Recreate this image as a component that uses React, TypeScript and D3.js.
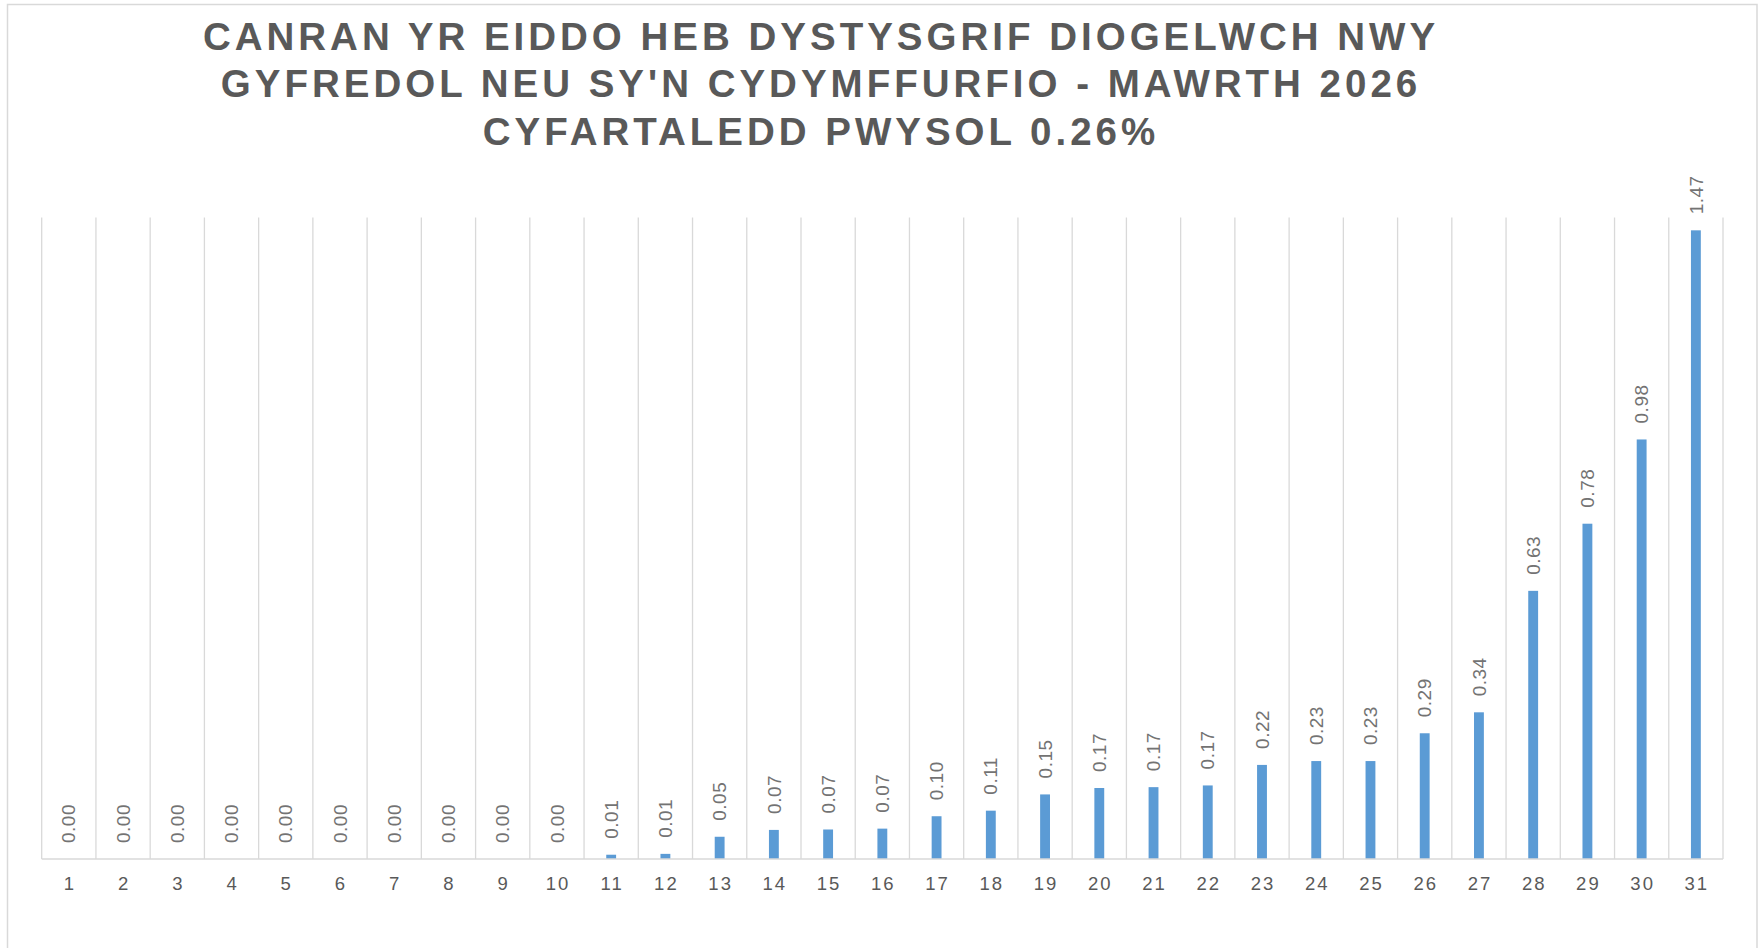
import React from 'react';
import * as d3 from 'd3';

// chart data
const days = d3.range(1, 32).map(String);
const values = [
  0, 0, 0, 0, 0, 0, 0, 0, 0, 0,
  0.01, 0.012, 0.052, 0.068, 0.069, 0.071, 0.1, 0.113, 0.151, 0.166,
  0.168, 0.172, 0.22, 0.229, 0.229, 0.294, 0.343, 0.627, 0.784, 0.981, 1.47,
];
const titleLines = [
  'CANRAN YR EIDDO HEB DYSTYSGRIF DIOGELWCH NWY',
  "GYFREDOL NEU SY'N CYDYMFFURFIO - MAWRTH 2026",
  'CYFARTALEDD PWYSOL 0.26%',
];

function App() {
  const w = 1763,
    h = 948;
  const plot = { left: 41.7, right: 1723, top: 217.5, bottom: 859 };
  const font = '"Liberation Sans", Arial, sans-serif';
  const grey = '#d9d9d9';

  const x = d3.scaleBand().domain(days).range([plot.left, plot.right]).padding(0);
  const y = d3.scaleLinear().domain([0, 1.5]).range([plot.bottom, plot.top]);
  // Excel gap width 450%
  const barW = x.bandwidth() / 5.5;
  const fmt = d3.format('.2f');

  const gridXs = days.map((d) => x(d)).concat([plot.right]);

  return (
    <svg width={w} height={h} style={{ position: 'absolute', left: 0, top: 0, background: '#fff' }}>
      {/* chart area border */}
      <rect x={7.5} y={4.5} width={1749.5} height={1000} fill="#fff" stroke={grey} strokeWidth={1.5} />

      {/* title */}
      <g fontFamily={font} fontWeight="bold" fontSize={38.5} fill="#595959" textAnchor="middle" letterSpacing={4}>
        {titleLines.map((t, i) => (
          <text key={i} x={821} y={49.5 + i * 47.8}>{t}</text>
        ))}
      </g>

      {/* vertical gridlines */}
      {gridXs.map((gx, i) => (
        <line key={i} x1={gx} x2={gx} y1={plot.top} y2={plot.bottom} stroke={grey} strokeWidth={1.3} />
      ))}

      {/* bars */}
      {values.map((v, i) => (
        <rect
          key={i}
          x={x(days[i])! + x.bandwidth() / 2 - barW / 2}
          y={y(v)}
          width={barW}
          height={plot.bottom - y(v)}
          fill="#5b9bd5"
        />
      ))}

      {/* axis line */}
      <line x1={plot.left} x2={plot.right} y1={plot.bottom} y2={plot.bottom} stroke={grey} strokeWidth={1.5} />

      {/* data labels */}
      <g fontFamily={font} fontSize={19} fill="#737373" letterSpacing={0.5}>
        {values.map((v, i) => {
          const cx = x(days[i])! + x.bandwidth() / 2;
          const cy = y(v) - 16;
          return (
            <text key={i} transform={`translate(${cx},${cy}) rotate(-90)`} dy="0.35em">
              {fmt(v)}
            </text>
          );
        })}
      </g>

      {/* category labels */}
      <g fontFamily={font} fontSize={18.5} fill="#595959" textAnchor="middle" letterSpacing={2}>
        {days.map((d) => (
          <text key={d} x={x(d)! + x.bandwidth() / 2 + 1} y={890}>{d}</text>
        ))}
      </g>
    </svg>
  );
}

export default App;
